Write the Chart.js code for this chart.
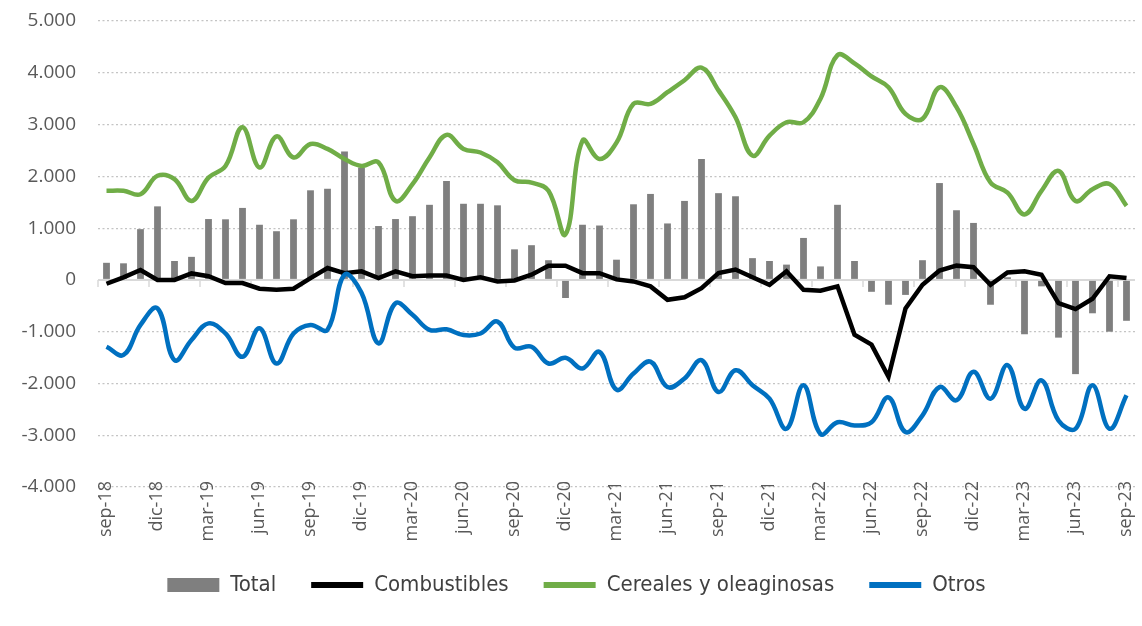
<!DOCTYPE html>
<html>
<head>
<meta charset="utf-8">
<script src="https://cdn.jsdelivr.net/npm/chart.js@4.4.0/dist/chart.umd.min.js"></script>
<style>
  html, body { margin: 0; padding: 0; background: #fff; }
  #wrap { width: 1142px; height: 626px; position: relative; }
</style>
</head>
<body>
<div id="wrap"><canvas id="chart"></canvas></div>
<script>
const meses = [
  "sep-18", "oct-18", "nov-18", "dic-18", "ene-19", "feb-19", "mar-19", "abr-19", "may-19", "jun-19",
  "jul-19", "ago-19", "sep-19", "oct-19", "nov-19", "dic-19", "ene-20", "feb-20", "mar-20", "abr-20",
  "may-20", "jun-20", "jul-20", "ago-20", "sep-20", "oct-20", "nov-20", "dic-20", "ene-21", "feb-21",
  "mar-21", "abr-21", "may-21", "jun-21", "jul-21", "ago-21", "sep-21", "oct-21", "nov-21", "dic-21",
  "ene-22", "feb-22", "mar-22", "abr-22", "may-22", "jun-22", "jul-22", "ago-22", "sep-22", "oct-22",
  "nov-22", "dic-22", "ene-23", "feb-23", "mar-23", "abr-23", "may-23", "jun-23", "jul-23", "ago-23",
  "sep-23"
];

const total = [
  330, 320, 980, 1420, 365, 445, 1175, 1170, 1390, 1065,
  940, 1170, 1730, 1760, 2480, 2170, 1040, 1175, 1230, 1450,
  1910, 1470, 1470, 1440, 590, 670, 380, -350, 1065, 1050,
  390, 1460, 1660, 1090, 1525, 2335, 1675, 1615, 420, 365,
  295, 810, 260, 1450, 365, -230, -480, -290, 380, 1870,
  1345, 1100, -480, 50, -1050, -125, -1115, -1820, -645, -1000,
  -790
];

const combustibles = [
  -75, 50, 190, 0, 0, 125, 70, -60, -60, -170,
  -190, -170, 35, 230, 130, 165, 35, 165, 70, 85,
  85, 0, 50, -30, -10, 100, 275, 275, 130, 130,
  10, -30, -125, -385, -335, -160, 130, 200, 50, -95,
  165, -190, -210, -125, -1060, -1250, -1870, -550, -95, 180,
  275, 245, -95, 145, 165, 100, -450, -565, -365, 70,
  35
];

const cereales = [
  1720, 1720, 1655, 2010, 1945, 1525, 1975, 2200, 2950, 2170,
  2770, 2365, 2625, 2530, 2335, 2200, 2270, 1525, 1850, 2365,
  2800, 2530, 2460, 2270, 1925, 1880, 1720, 880, 2690, 2335,
  2650, 3400, 3400, 3625, 3855, 4100, 3660, 3140, 2400, 2785,
  3045, 3045, 3500, 4340, 4180, 3930, 3720, 3205, 3110, 3720,
  3335, 2625, 1880, 1685, 1265, 1720, 2105, 1525, 1750, 1850,
  1430
];

const otros = [
  -1290, -1450, -870, -550, -1550, -1160, -840, -1035, -1485, -935,
  -1615, -1035, -870, -965, 100, -250, -1225, -450, -675, -965,
  -955, -1065, -1035, -805, -1310, -1290, -1615, -1505, -1710, -1390,
  -2120, -1810, -1580, -2070, -1905, -1550, -2165, -1745, -2035, -2295,
  -2875, -2035, -2975, -2750, -2810, -2750, -2270, -2940, -2615, -2070,
  -2325, -1775, -2295, -1645, -2490, -1940, -2715, -2875, -2035, -2875,
  -2230
];

const gris = "#595959";
const fuente = "'Open Sans', Lato, sans-serif";

// ticks pequeños sobre la línea del cero, cada trimestre
const marcasCero = {
  id: "marcasCero",
  beforeDatasetsDraw(chart) {
    const x = chart.scales.x;
    const y0 = chart.scales.y.getPixelForValue(0);
    const ctx = chart.ctx;
    ctx.save();
    ctx.strokeStyle = "#d9d9d9";
    ctx.lineWidth = 1.5;
    ctx.beginPath();
    for (let i = 0; i <= meses.length; i += 3) {
      let px;
      if (i === 0) px = x.left;
      else if (i === meses.length) px = x.right;
      else px = (x.getPixelForValue(i) + x.getPixelForValue(i - 1)) / 2;
      ctx.moveTo(px, y0);
      ctx.lineTo(px, y0 + 7);
    }
    ctx.stroke();
    ctx.restore();
  },
};

const ctx = document.getElementById("chart").getContext("2d");
new Chart(ctx, {
  type: "bar",
  data: {
    labels: meses,
    datasets: [
      {
        label: "Total",
        data: total,
        backgroundColor: "#7f7f7f",
        barPercentage: 0.8,
        categoryPercentage: 0.5,
        order: 4,
      },
      {
        type: "line",
        label: "Combustibles",
        data: combustibles,
        borderColor: "#000000",
        backgroundColor: "#000000",
        borderWidth: 4.5,
        pointRadius: 0,
        tension: 0,
        order: 3,
      },
      {
        type: "line",
        label: "Cereales y oleaginosas",
        data: cereales,
        borderColor: "#70ad47",
        backgroundColor: "#70ad47",
        borderWidth: 4.5,
        pointRadius: 0,
        tension: 0.4,
        order: 2,
      },
      {
        type: "line",
        label: "Otros",
        data: otros,
        borderColor: "#0070c0",
        backgroundColor: "#0070c0",
        borderWidth: 4.5,
        pointRadius: 0,
        tension: 0.4,
        order: 1,
      },
    ],
  },
  options: {
    responsive: true,
    maintainAspectRatio: false,
    animation: false,
    layout: {
      padding: { top: 21, right: 7, bottom: 20, left: 18 },
    },
    plugins: {
      tooltip: { enabled: false },
      legend: {
        position: "bottom",
        labels: {
          usePointStyle: true,
          pointStyleWidth: 52,
          boxHeight: 14,
          padding: 35,
          color: "#404040",
          font: { family: "'Liberation Sans Narrow', 'DejaVu Sans Condensed', sans-serif", size: 22 },
          sort: (a, b) => a.datasetIndex - b.datasetIndex,
          generateLabels(chart) {
            const items = Chart.defaults.plugins.legend.labels.generateLabels(chart);
            items.forEach((it) => {
              const ds = chart.data.datasets[it.datasetIndex];
              if (ds.type === "line") {
                it.pointStyle = "line";
                it.strokeStyle = ds.borderColor;
                it.lineWidth = 6;
              } else {
                it.pointStyle = "rect";
                it.lineWidth = 0;
              }
            });
            return items;
          },
        },
      },
    },
    scales: {
      x: {
        grid: { display: false, drawTicks: false },
        border: { display: false },
        ticks: {
          autoSkip: false,
          mirror: true,
          labelOffset: 21,
          maxRotation: 90,
          minRotation: 90,
          padding: 6,
          color: gris,
          font: { family: fuente, size: 18 },
          callback: function (value, index) {
            return index % 3 === 0 ? meses[index] : "";
          },
        },
        afterFit(scale) {
          scale.height = 52;
          scale.paddingLeft = 0;
          scale.paddingRight = 0;
        },
      },
      y: {
        min: -4000,
        max: 5000,
        ticks: {
          stepSize: 1000,
          padding: 0,
          color: gris,
          font: { family: fuente, size: 19 },
          callback: (v) => v.toLocaleString("de-DE"),
        },
        grid: {
          drawTicks: true,
          tickLength: 22,
          tickColor: "rgba(0,0,0,0)",
          color: (c) => (c.tick && c.tick.value === 0 ? "#d9d9d9" : "#c4c4c4"),
          lineWidth: (c) => (c.tick && c.tick.value === 0 ? 2 : 1.2),
        },
        border: {
          display: false,
          dash: (c) => (c.tick && c.tick.value === 0 ? [] : [2, 2.5]),
        },
        afterFit(scale) {
          scale.width = 80;
        },
      },
    },
  },
  plugins: [marcasCero],
});
</script>
</body>
</html>
